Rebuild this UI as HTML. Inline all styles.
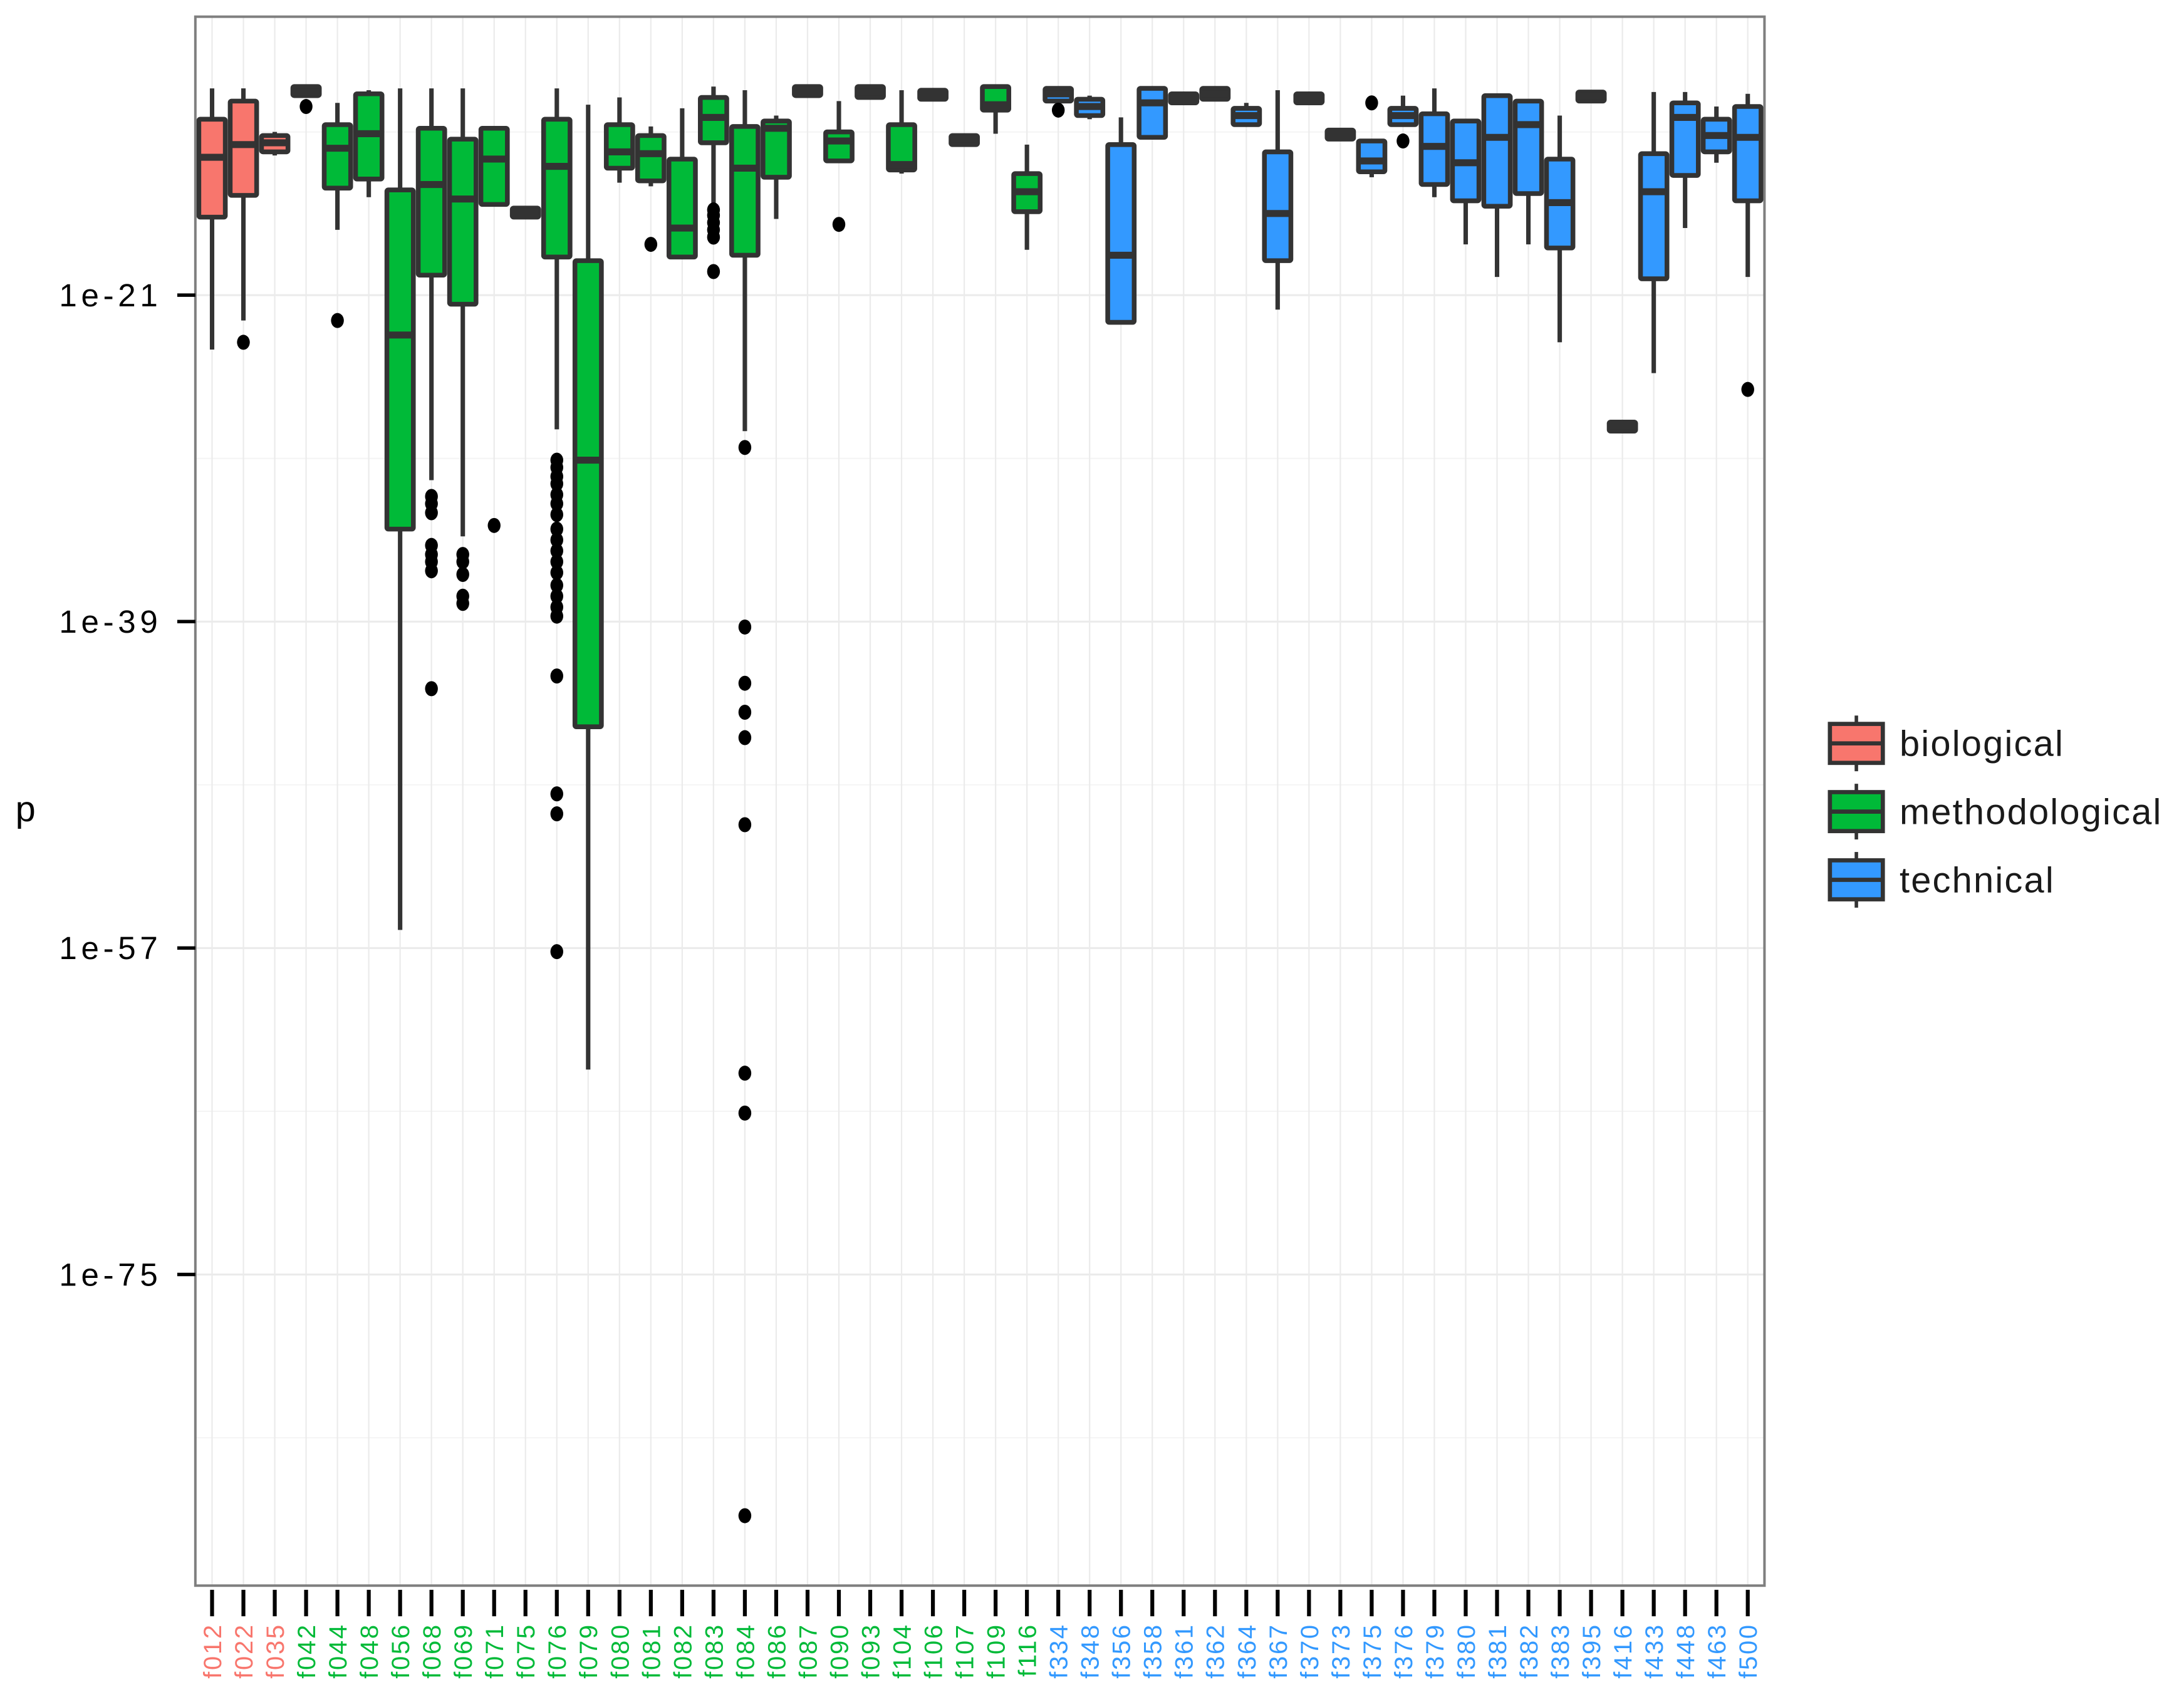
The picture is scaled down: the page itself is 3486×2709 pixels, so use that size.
<!DOCTYPE html>
<html><head><meta charset="utf-8"><style>html,body{margin:0;padding:0;background:#fff}svg{display:block}</style></head>
<body>
<svg id="chart" width="3486" height="2709" viewBox="0 0 1568 1219" xmlns="http://www.w3.org/2000/svg" font-family="Liberation Sans, sans-serif">
<rect x="0" y="0" width="1568" height="1219" fill="#fff"/>
<g id="grid"></g><g id="marks"></g><g id="axes"></g>
<text x="18" y="590" font-size="26" text-anchor="middle">p</text>
<g font-size="26" letter-spacing="1">
 <g>
  <rect x="1314" y="520" width="38" height="28" fill="#F8766D" stroke="#333" stroke-width="3"/>
  <line x1="1314" y1="534" x2="1352" y2="534" stroke="#333" stroke-width="3"/><line x1="1333" y1="514" x2="1333" y2="520" stroke="#333" stroke-width="2.5"/><line x1="1333" y1="548" x2="1333" y2="554" stroke="#333" stroke-width="2.5"/>
  <text x="1364" y="543" fill="#1a1a1a">biological</text></g>
 <g>
  <rect x="1314" y="569" width="38" height="28" fill="#00BA38" stroke="#333" stroke-width="3"/>
  <line x1="1314" y1="583" x2="1352" y2="583" stroke="#333" stroke-width="3"/><line x1="1333" y1="563" x2="1333" y2="569" stroke="#333" stroke-width="2.5"/><line x1="1333" y1="597" x2="1333" y2="603" stroke="#333" stroke-width="2.5"/>
  <text x="1364" y="592" fill="#1a1a1a">methodological</text></g>
 <g>
  <rect x="1314" y="618" width="38" height="28" fill="#3399FF" stroke="#333" stroke-width="3"/>
  <line x1="1314" y1="632" x2="1352" y2="632" stroke="#333" stroke-width="3"/><line x1="1333" y1="612" x2="1333" y2="618" stroke="#333" stroke-width="2.5"/><line x1="1333" y1="646" x2="1333" y2="652" stroke="#333" stroke-width="2.5"/>
  <text x="1364" y="641" fill="#1a1a1a">technical</text></g>
</g>
</svg>
<script>
const categories = ["f012","f022","f035","f042","f044","f048","f056","f068","f069","f071","f075","f076","f079","f080","f081","f082","f083","f084","f086","f087","f090","f093","f104","f106","f107","f109","f116","f334","f348","f356","f358","f361","f362","f364","f367","f370","f373","f375","f376","f379","f380","f381","f382","f383","f395","f416","f433","f448","f463","f500"];
const groups = ["b","b","b","m","m","m","m","m","m","m","m","m","m","m","m","m","m","m","m","m","m","m","m","m","m","m","m","t","t","t","t","t","t","t","t","t","t","t","t","t","t","t","t","t","t","t","t","t","t","t"];
// log10(p) values
const whiskerHigh = [-9.6,-9.6,-12.0,-9.5,-10.4,-9.7,-9.6,-9.6,-9.6,-11.7,-16.2,-9.6,-10.5,-10.1,-11.7,-10.7,-9.5,-9.7,-11.1,-9.5,-10.3,-9.5,-9.7,-9.7,-12.2,-9.5,-12.7,-9.6,-10.0,-11.2,-9.6,-9.9,-9.6,-10.4,-9.7,-9.9,-11.9,-12.5,-10.0,-9.6,-11.4,-10.0,-10.3,-11.1,-9.8,-28.0,-9.8,-9.8,-10.6,-9.9];
const q3 = [-11.3,-10.3,-12.2,-9.5,-11.6,-9.9,-15.2,-11.8,-12.4,-11.8,-16.2,-11.3,-19.1,-11.6,-12.2,-13.5,-10.1,-11.7,-11.4,-9.5,-12.0,-9.5,-11.6,-9.7,-12.2,-9.5,-14.3,-9.6,-10.2,-12.7,-9.6,-9.9,-9.6,-10.7,-13.1,-9.9,-11.9,-12.5,-10.7,-11.0,-11.4,-10.0,-10.3,-13.5,-9.8,-28.0,-13.2,-10.4,-11.3,-10.6];
const medians = [-13.4,-12.7,-12.6,-9.8,-12.9,-12.1,-23.2,-14.9,-15.7,-13.5,-16.4,-13.9,-30.1,-13.1,-13.2,-17.3,-11.2,-14.0,-11.8,-9.7,-12.5,-9.8,-13.8,-9.95,-12.4,-10.5,-15.3,-9.9,-10.6,-18.8,-10.4,-10.1,-9.9,-11.1,-16.5,-10.1,-12.1,-13.6,-11.1,-12.8,-13.7,-12.3,-11.6,-15.9,-10.0,-28.2,-15.3,-11.2,-12.2,-12.3];
const q1 = [-16.7,-15.5,-13.1,-10.0,-15.1,-14.6,-33.9,-19.9,-21.5,-16.0,-16.7,-18.9,-44.8,-14.0,-14.7,-18.9,-12.6,-18.8,-14.5,-10.0,-13.6,-10.1,-14.1,-10.2,-12.7,-10.8,-16.4,-10.3,-11.1,-22.5,-12.3,-10.4,-10.2,-11.6,-19.1,-10.4,-12.4,-14.2,-11.6,-14.9,-15.8,-16.1,-15.4,-18.4,-10.3,-28.5,-20.1,-14.4,-13.1,-15.8];
const whiskerLow = [-24.0,-22.4,-13.3,-10.0,-17.4,-15.6,-56.0,-31.2,-34.3,-16.0,-16.7,-28.4,-63.7,-14.8,-15.0,-18.9,-16.1,-28.5,-16.8,-10.0,-13.6,-10.1,-14.3,-10.2,-12.7,-12.1,-18.5,-10.3,-11.3,-22.5,-12.3,-10.4,-10.2,-11.6,-21.8,-10.4,-12.4,-14.5,-11.6,-15.6,-18.2,-20.0,-18.2,-23.6,-10.3,-28.5,-25.3,-17.3,-13.7,-20.0];
const outlierCat = ["f022","f042","f044","f068","f068","f068","f068","f068","f068","f068","f068","f069","f069","f069","f069","f069","f071","f076","f076","f076","f076","f076","f076","f076","f076","f076","f076","f076","f076","f076","f076","f076","f076","f076","f076","f076","f076","f081","f083","f083","f083","f083","f083","f083","f084","f084","f084","f084","f084","f084","f084","f084","f084","f090","f334","f375","f376","f500"];
const outlierVal = [-23.6,-10.6,-22.4,-32.1,-32.5,-33.0,-34.8,-35.3,-35.7,-36.2,-42.7,-35.3,-35.7,-36.4,-37.6,-38.0,-33.7,-30.1,-30.5,-31.0,-31.4,-32.0,-32.5,-33.1,-33.9,-34.5,-35.1,-35.7,-36.3,-37.0,-37.6,-38.2,-38.7,-42.0,-48.5,-49.6,-57.2,-18.2,-16.3,-16.6,-17.0,-17.4,-17.8,-19.7,-29.4,-39.3,-42.4,-44.0,-45.4,-50.2,-63.9,-66.1,-88.3,-17.1,-10.8,-10.4,-12.5,-26.2];
const yTicks = [-21,-39,-57,-75];
const yTickLabels = ["1e-21","1e-39","1e-57","1e-75"];
const yMinor = [-12,-30,-48,-66,-84];

const NS="http://www.w3.org/2000/svg";
const P={l:140,r:1267,t:12,b:1139};
const fills={b:"#F8766D",m:"#00BA38",t:"#3399FF"};
function xScale(i){return 152+i*(1255-152)/(categories.length-1);}
function yScale(v){return 212+(-21-v)*(234.5/18);}
function mk(tag,attrs,parent){const e=document.createElementNS(NS,tag);for(const k in attrs)e.setAttribute(k,attrs[k]);parent.appendChild(e);return e;}
const grid=document.getElementById('grid'),marks=document.getElementById('marks'),axes=document.getElementById('axes');
const bg=mk('rect',{x:P.l,y:P.t,width:P.r-P.l,height:P.b-P.t,fill:'#fff'},grid);


yMinor.forEach(v=>{const g=mk('line',{x1:P.l,x2:P.r,y1:yScale(v),y2:yScale(v),stroke:'#F4F4F4','stroke-width':0.9},grid);

});
yTicks.forEach(v=>{const g=mk('line',{x1:P.l,x2:P.r,y1:yScale(v),y2:yScale(v),stroke:'#EBEBEB','stroke-width':1.4},grid);

});
categories.forEach((c,i)=>{const g=mk('line',{x1:xScale(i),x2:xScale(i),y1:P.t,y2:P.b,stroke:'#EBEBEB','stroke-width':1},grid);

});
const bw=19;
categories.forEach((c,i)=>{
 const x=xScale(i);
 const g=mk('g',{},marks);
 
 
 mk('line',{x1:x,x2:x,y1:yScale(whiskerHigh[i]),y2:yScale(q3[i]),stroke:'#333','stroke-width':3.2},g);
 mk('line',{x1:x,x2:x,y1:yScale(q1[i]),y2:yScale(whiskerLow[i]),stroke:'#333','stroke-width':3.2},g);
 const y3=yScale(q3[i]),y1=yScale(q1[i]);
 mk('rect',{x:x-bw/2,y:y3,width:bw,height:Math.max(y1-y3,0.5),fill:fills[groups[i]],stroke:'#333','stroke-width':3.4,rx:1},g);
 mk('line',{x1:x-bw/2,x2:x+bw/2,y1:yScale(medians[i]),y2:yScale(medians[i]),stroke:'#333','stroke-width':5},g);
});
outlierVal.forEach((v,k)=>{
 const i=categories.indexOf(outlierCat[k]);
 const d=mk('ellipse',{cx:xScale(i),cy:yScale(v),rx:4.6,ry:5.4,fill:'#000'},marks);
 
 
});
const border=mk('rect',{x:P.l,y:P.t,width:P.r-P.l,height:P.b-P.t,fill:'none',stroke:'#7F7F7F','stroke-width':1.8},axes);


yTicks.forEach((v,k)=>{
 mk('line',{x1:127,x2:P.l,y1:yScale(v),y2:yScale(v),stroke:'#000','stroke-width':2.5},axes);
 const t=mk('text',{x:116,y:yScale(v)+8,'font-size':23,'letter-spacing':3,'text-anchor':'end',fill:'#000'},axes);
 t.textContent=yTickLabels[k];
 
 
});
const tc={b:"#F8766D",m:"#00BA38",t:"#3399FF"};
categories.forEach((c,i)=>{
 const x=xScale(i);
 mk('line',{x1:x,x2:x,y1:P.b+3,y2:P.b+22,stroke:'#000','stroke-width':2.8},axes);
 const t=mk('text',{x:0,y:0,'font-size':18,'letter-spacing':1.2,'text-anchor':'end',fill:tc[groups[i]],transform:`translate(${x+6.5},${P.b+27}) rotate(-90)`},axes);
 t.textContent=c;
 
 
});
</script>
</body></html>
